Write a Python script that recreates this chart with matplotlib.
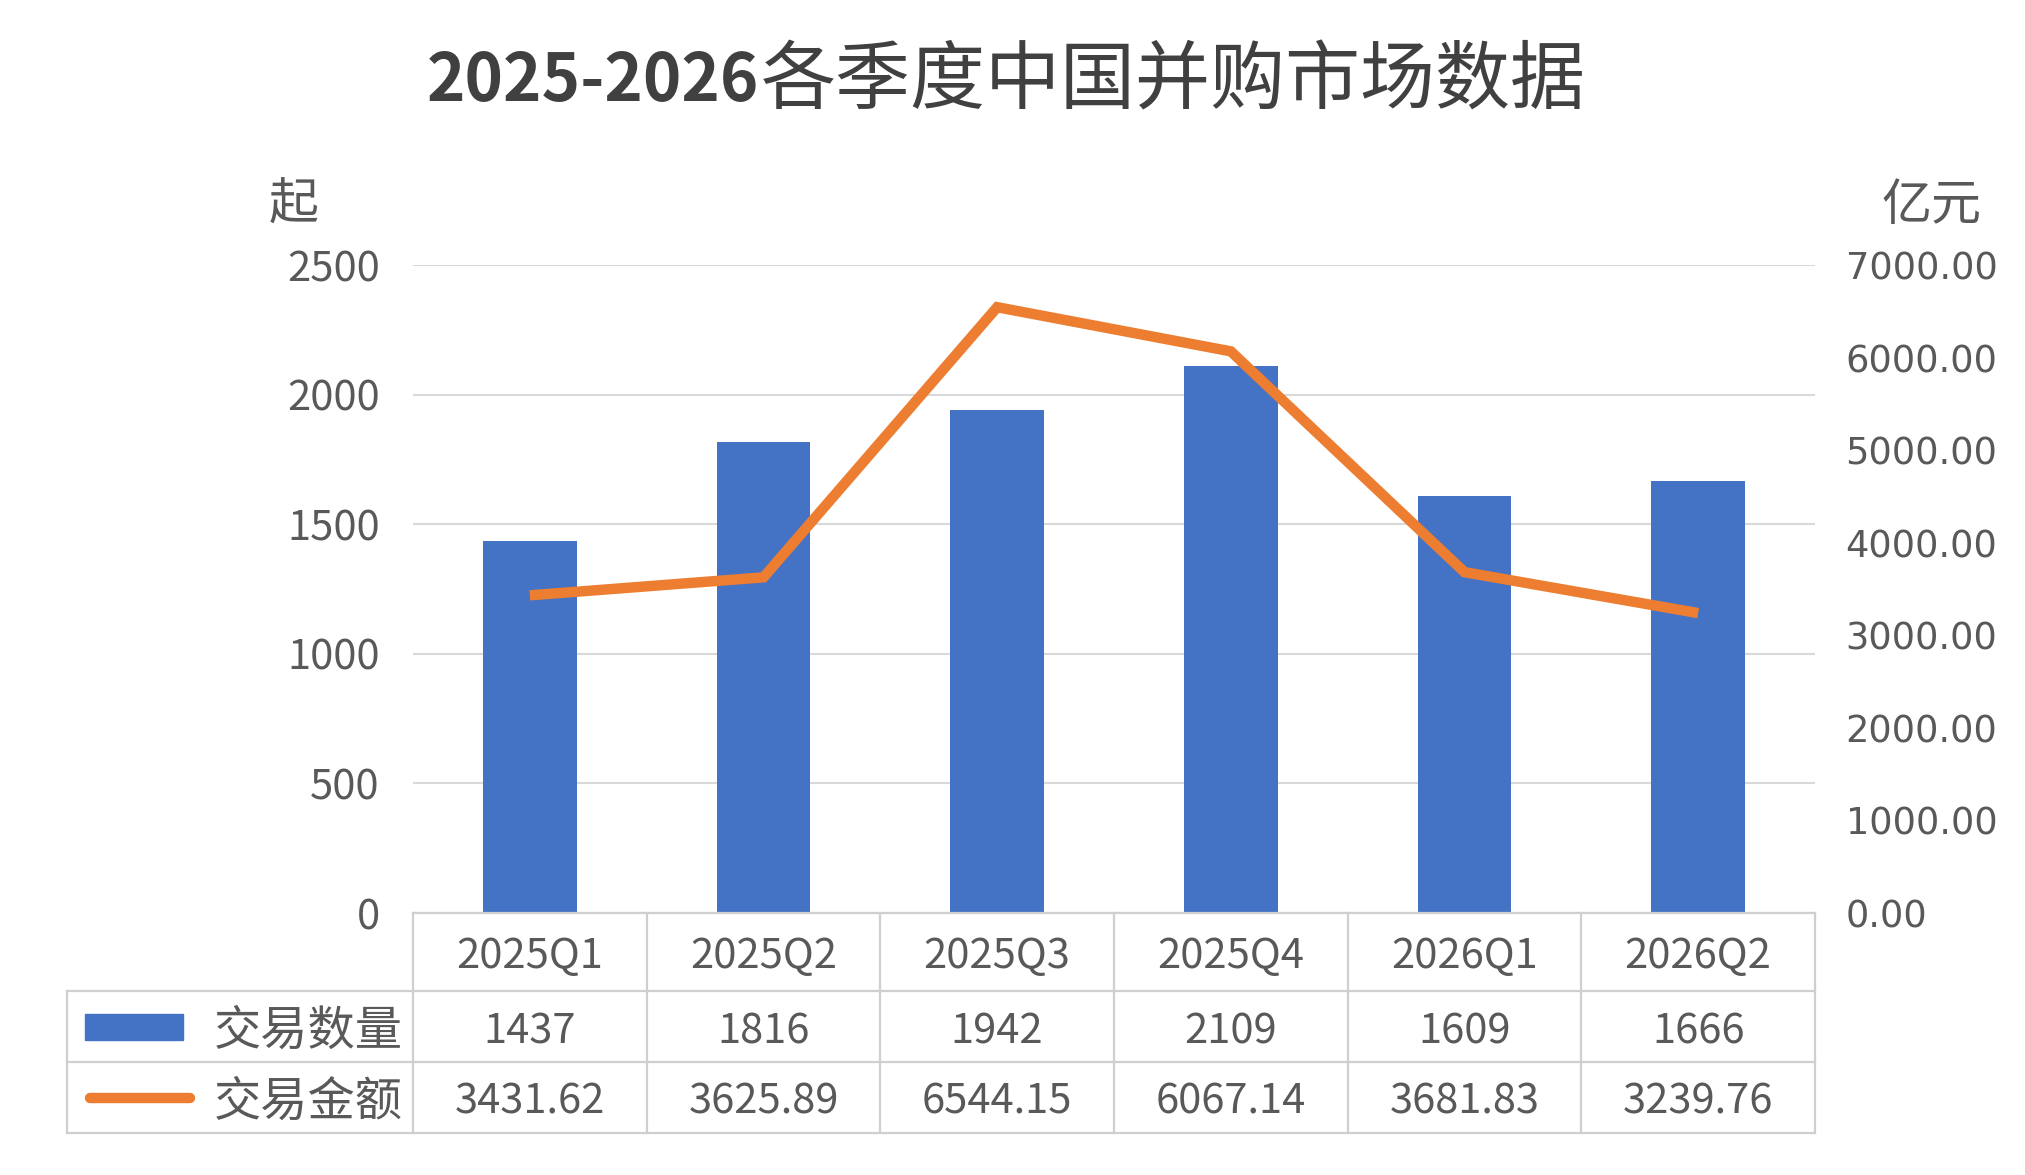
import matplotlib
matplotlib.use("Agg")
import matplotlib.pyplot as plt
import matplotlib.transforms as mtransforms
from matplotlib.patches import Rectangle

plt.rcParams['font.family'] = ['Noto Sans CJK SC', 'DejaVu Sans']

# ----------------------------------------------------------------------------------------------------------------------
title_num = "2025-2026"
title_txt = "各季度中国并购市场数据"
quarters = ["2025Q1", "2025Q2", "2025Q3", "2025Q4", "2026Q1", "2026Q2"]
deal_count = [1437, 1816, 1942, 2109, 1609, 1666]
deal_value = [3431.62, 3625.89, 6544.15, 6067.14, 3681.83, 3239.76]
name_count = "交易数量"
name_value = "交易金额"
unit_left = "起"
unit_right = "亿元"
left_ticks = [0, 500, 1000, 1500, 2000, 2500]
right_ticks = [0, 1000, 2000, 3000, 4000, 5000, 6000, 7000]
# ----------------------------------------------------------------------------------------------------------------------
W, H = 2025, 1175
BLUE = '#4472C4'
ORANGE = '#ED7D31'
TEXT = '#595959'
GRID = '#D9D9D9'
BORDER = '#CFCFCF'
DY = 5  # small downward nudge of centred table text


def fx(px):
    return px / W


def fy(py):
    return 1 - py / H


fig = plt.figure(figsize=(W / 100, H / 100), dpi=100)
ax = fig.add_axes([fx(413), fy(913), fx(1815) - fx(413), fy(265) - fy(913)])
x = list(range(len(quarters)))

ax.bar(x, deal_count, width=0.4, color=BLUE, zorder=2)
ax.set_xlim(-0.5, len(quarters) - 0.5)
ax.set_ylim(0, 2500)
ax.set_yticks(left_ticks)
ax.set_yticklabels([str(t) for t in left_ticks], fontsize=30, color=TEXT)
ax.tick_params(axis='y', length=0, pad=24)
ax.set_xticks([])
ax.grid(axis='y', color=GRID, lw=1.5, zorder=0)
for s in ax.spines.values():
    s.set_visible(False)

ax2 = ax.twinx()
ax2.plot(x, deal_value, color=ORANGE, lw=7.5, solid_joinstyle='miter', solid_capstyle='butt', zorder=3)
ax2.set_ylim(0, 7000)
ax2.set_yticks(right_ticks)
ax2.set_yticklabels([f"{t:.2f}" for t in right_ticks], fontsize=26.5, color=TEXT, family='DejaVu Sans')
ax2.tick_params(axis='y', length=0, pad=22)
ax2.set_xlim(-0.5, len(quarters) - 0.5)
for s in ax2.spines.values():
    s.set_visible(False)

# units
fig.text(fx(294), fy(206), unit_left, fontsize=36, color=TEXT, ha='center', va='center')
fig.text(fx(1931), fy(206), unit_right, fontsize=36, color=TEXT, ha='center', va='center')

# title
fig.text(fx(759), fy(82), title_num, fontsize=47, fontweight='bold', color='#404040', ha='right', va='center')
fig.text(fx(761), fy(82), title_txt, fontsize=54, color='#404040', ha='left', va='center')

# data table under the axis
tr = mtransforms.blended_transform_factory(ax.transData, fig.transFigure)
y_top, y_h1, y_h2, y_bot = 913, 991, 1062, 1133
n = len(quarters)
kw = dict(color=BORDER, lw=1.6, clip_on=False)
for yy in (y_top, y_h1, y_h2, y_bot):
    ax.plot([-0.5, n - 0.5], [fy(yy), fy(yy)], transform=tr, **kw)
for i in range(n + 1):
    ax.plot([i - 0.5, i - 0.5], [fy(y_top), fy(y_bot)], transform=tr, **kw)
fig.add_artist(plt.Line2D([fx(67), fx(413)], [fy(y_h1), fy(y_h1)], **kw))
fig.add_artist(plt.Line2D([fx(67), fx(413)], [fy(y_h2), fy(y_h2)], **kw))
fig.add_artist(plt.Line2D([fx(67), fx(413)], [fy(y_bot), fy(y_bot)], **kw))
fig.add_artist(plt.Line2D([fx(67), fx(67)], [fy(y_h1), fy(y_bot)], **kw))

for i, q in enumerate(quarters):
    ax.text(i, fy((y_top + y_h1) / 2 + DY), q, transform=tr, fontsize=30, color=TEXT, ha='center', va='center')
    ax.text(i, fy((y_h1 + y_h2) / 2 + DY), str(deal_count[i]), transform=tr, fontsize=30, color=TEXT,
            ha='center', va='center')
    ax.text(i, fy((y_h2 + y_bot) / 2 + DY), f"{deal_value[i]:.2f}", transform=tr, fontsize=30, color=TEXT,
            ha='center', va='center')

# legend keys in the row headers
fig.add_artist(Rectangle((fx(85), fy(1040)), fx(183) - fx(85), fy(1014) - fy(1040),
                         transform=fig.transFigure, color=BLUE))
fig.add_artist(plt.Line2D([fx(90), fx(190)], [fy(1098), fy(1098)], color=ORANGE, lw=7.5,
                          solid_capstyle='round'))
fig.text(fx(403), fy((y_h1 + y_h2) / 2 + DY), name_count, fontsize=34, color=TEXT, ha='right', va='center')
fig.text(fx(403), fy((y_h2 + y_bot) / 2 + DY), name_value, fontsize=34, color=TEXT, ha='right', va='center')

fig.savefig('out.png', dpi=100, facecolor='white')
